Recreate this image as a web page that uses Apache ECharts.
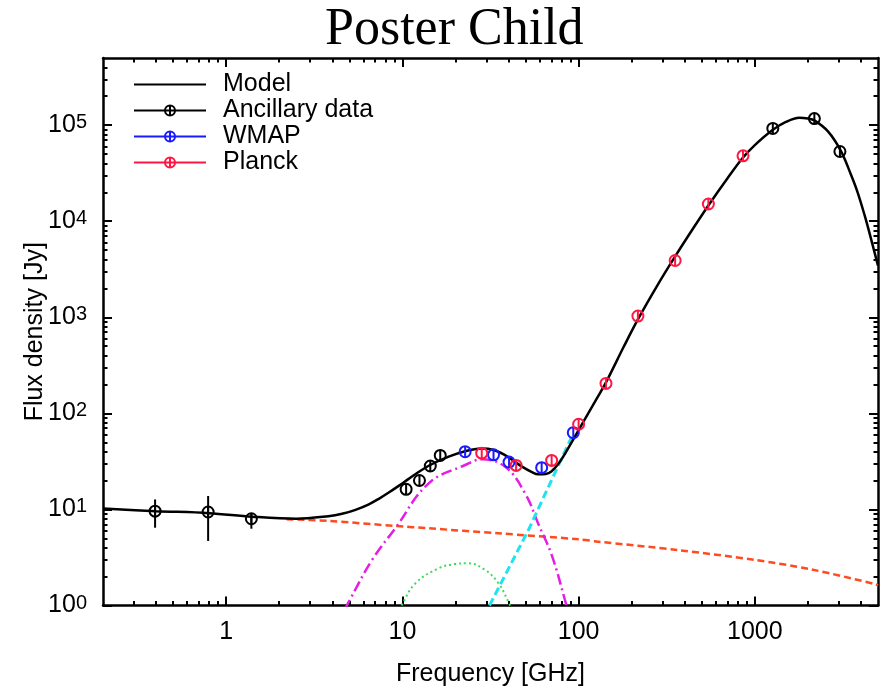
<!DOCTYPE html>
<html><head><meta charset="utf-8">
<script src="https://cdn.jsdelivr.net/npm/echarts@6/dist/echarts.min.js"></script>
<style>html,body{margin:0;padding:0;background:#fff}#c{width:880px;height:688px}</style>
</head><body><div id="c"></div>
<script>
// ---- Model (total) curve ----
const modelFreq = [0.2, 0.4, 0.8, 1.4, 2.5, 3.8, 4.55, 5.42, 6.45, 7.35, 8.37, 9.53, 10.86, 11.85, 14.1, 18.3, 22.7, 28, 33, 38, 43, 48, 54, 59, 65, 70, 77, 84, 93, 104, 126, 143, 180, 217, 280, 353, 450, 545, 700, 857, 1000, 1250, 1500, 1790, 2000, 2177, 2600, 3077, 3500, 3830, 4200, 4460, 4800, 5000];
const modelFlux = [10.2, 9.6, 9.15, 8.4, 8.0, 8.5, 9.0, 9.9, 11.3, 12.9, 15.0, 17.6, 20.8, 23.2, 28.5, 35.4, 40.4, 43, 41.6, 37, 31.8, 27.7, 24.6, 23.2, 23.4, 24.8, 30, 38.4, 53, 76, 140, 210, 490, 950, 2150, 4300, 8600, 14600, 28000, 46000, 62000, 88000, 108000, 119500, 117000, 112000, 86000, 54000, 31000, 20000, 11500, 7700, 4600, 3450];

// ---- Components ----
const syncFreq = [2.2, 3.8, 9.13, 14.1, 35.1, 100, 129, 366, 1000, 2083, 4820, 5000];
const syncFlux = [7.9, 7.6, 6.72, 6.36, 5.64, 4.89, 4.62, 3.78, 2.98, 2.38, 1.67, 1.62];

const ameFreq = [4.7, 4.97, 6.73, 9.13, 14.1, 22.7, 28.2, 38.3, 49.7, 59.1, 70.3, 83.7, 87];
const ameFlux = [0.9, 1.1, 2.98, 6.4, 18.7, 29.0, 33.2, 27.8, 14.7, 7.05, 3.36, 1.14, 0.85];

const ame2Freq = [9.6, 9.87, 11.85, 16.05, 19.96, 23.7, 29.5, 35.1, 40.9, 42];
const ame2Flux = [0.9, 1.0, 1.70, 2.44, 2.70, 2.75, 2.34, 1.70, 1.0, 0.9];

const dustFreq = [31.2, 51.9, 93.3];
const dustFlux = [1.0, 6.1, 62];

// ---- Measurements ----
const ancFreq = [0.395, 0.79, 1.39, 10.5, 12.5, 14.4, 16.4, 1265, 2177, 3040];
const ancFlux = [9.6, 9.4, 8.0, 16.2, 20, 28.3, 36.5, 92400, 117000, 53200];
const ancErrLo = [6.45, 4.7, 6.3, null, null, null, null, null, null, null];
const ancErrHi = [12.7, 13.8, 9.2, null, null, null, null, null, null, null];

const wmapFreq = [22.7, 32.9, 40.3, 61.7, 93.3];
const wmapFlux = [39.9, 37, 31.1, 27.2, 62.9];

const planckFreq = [28.2, 44.2, 70.3, 100, 143, 217, 353, 545, 857];
const planckFlux = [38.5, 28.7, 32.4, 77, 205, 1030, 3900, 15100, 47900];

// ---- Axis ticks / labels ----
const xTickLabels = [1, 10, 100, 1000];
const xMinorTicks = [0.3,0.4,0.5,0.6,0.7,0.8,0.9, 2,3,4,5,6,7,8,9, 20,30,40,50,60,70,80,90, 200,300,400,500,600,700,800,900, 2000,3000,4000];
const yTickLabels = [1, 10, 100, 1000, 10000, 100000];
const yMinorTicks = [2,3,4,5,6,7,8,9, 20,30,40,50,60,70,80,90, 200,300,400,500,600,700,800,900, 2000,3000,4000,5000,6000,7000,8000,9000, 20000,30000,40000,50000,60000,70000,80000,90000, 200000,300000,400000];

const FONT = 'Liberation Sans, Arial, Helvetica, sans-serif';
const pairs = (xs, ys) => xs.map((x, i) => [x, ys[i]]);
const ptSymbol = 'path://M1,12 A11,11 0 1,0 23,12 A11,11 0 1,0 1,12 Z M12,1 L12,23';

function baseX(pos, ticks, len, showLine) {
  return {
    type: 'log', logBase: 10, min: 0.2, max: 5000, gridIndex: 0, position: pos,
    axisLine: {show: showLine, onZero: false, lineStyle: {color: '#000', width: 2.5}},
    axisTick: {show: true, inside: true, length: len, customValues: ticks, lineStyle: {color: '#000', width: 2}},
    axisLabel: {show: false}, splitLine: {show: false}, minorTick: {show: false}
  };
}
function baseY(pos, ticks, len, showLine) {
  return {
    type: 'log', logBase: 10, min: 1, max: 500000, gridIndex: 0, position: pos,
    axisLine: {show: showLine, onZero: false, lineStyle: {color: '#000', width: 2.5}},
    axisTick: {show: true, inside: true, length: len, customValues: ticks, lineStyle: {color: '#000', width: 2}},
    axisLabel: {show: false}, splitLine: {show: false}, minorTick: {show: false}
  };
}

const xMain = baseX('bottom', xTickLabels, 9, true);
xMain.axisLabel = {
  show: true, customValues: xTickLabels, margin: 14,
  formatter: v => String(Math.round(v)),
  fontSize: 25, color: '#000', fontFamily: FONT
};
xMain.name = 'Frequency [GHz]';
xMain.nameLocation = 'middle';
xMain.nameGap = 56;
xMain.nameMoveOverlap = false;
xMain.nameTextStyle = {fontSize: 25, color: '#000', fontFamily: FONT};

const yMain = baseY('left', yTickLabels, 9, true);
yMain.axisLabel = {
  show: true, customValues: yTickLabels, margin: 16,
  formatter: v => '{b|10}{s|' + Math.round(Math.log10(v)) + '}',
  color: '#000', fontFamily: FONT,
  rich: {
    b: {fontSize: 25, lineHeight: 25, padding: [5, 0, 0, 0], verticalAlign: 'bottom', color: '#000', fontFamily: FONT},
    s: {fontSize: 20, lineHeight: 20, verticalAlign: 'top', color: '#000', fontFamily: FONT}
  }
};
yMain.name = 'Flux density [Jy]';
yMain.nameLocation = 'middle';
yMain.nameGap = 55;
yMain.nameMoveOverlap = false;
yMain.nameRotate = 90;
yMain.nameTextStyle = {fontSize: 25, color: '#000', fontFamily: FONT};

function curve(name, xs, ys, color, width, type, z, smooth) {
  return {
    name: name, type: 'line', xAxisIndex: 0, yAxisIndex: 0, data: pairs(xs, ys),
    symbol: 'circle', showSymbol: false, smooth: smooth, clip: true, z: z, silent: true,
    lineStyle: {color: color, width: width, type: type}, itemStyle: {color: color},
    emphasis: {disabled: true}
  };
}
function points(name, xs, ys, color) {
  return {
    name: name, type: 'line', xAxisIndex: 0, yAxisIndex: 0, data: pairs(xs, ys),
    symbol: ptSymbol, symbolSize: 11, showSymbol: true, z: 6, silent: true,
    lineStyle: {color: color, width: 2, opacity: 0},
    itemStyle: {color: 'rgba(0,0,0,0)', borderColor: color, borderWidth: 2},
    emphasis: {disabled: true}
  };
}

const errData = [];
ancFreq.forEach((f, i) => { if (ancErrLo[i] != null) errData.push([f, ancErrLo[i], ancErrHi[i]]); });

const option = {
  animation: false,
  backgroundColor: '#fff',
  title: {
    text: 'Poster Child', left: 325, top: 4, padding: 0,
    textStyle: {fontFamily: 'Liberation Serif, Times New Roman, serif', fontSize: 52, fontWeight: 'normal', color: '#000'}
  },
  grid: {left: 103, top: 58, width: 775, height: 547.5, containLabel: false, outerBoundsMode: 'none'},
  legend: {
    orient: 'vertical', left: 133, top: 72, padding: 0, itemGap: 1,
    itemWidth: 72, itemHeight: 12.5, selectedMode: false,
    textStyle: {fontSize: 25, color: '#000', fontFamily: FONT, padding: [0, 0, 0, 12]},
    data: [
      {name: 'Model', itemStyle: {opacity: 0}},
      {name: 'Ancillary data', lineStyle: {opacity: 1}},
      {name: 'WMAP', lineStyle: {opacity: 1}},
      {name: 'Planck', lineStyle: {opacity: 1}}
    ]
  },
  xAxis: [xMain, baseX('bottom', xMinorTicks, 4.5, false), baseX('top', xTickLabels, 9, true), baseX('top', xMinorTicks, 4.5, false)],
  yAxis: [yMain, baseY('left', yMinorTicks, 4.5, false), baseY('right', yTickLabels, 9, true), baseY('right', yMinorTicks, 4.5, false)],
  series: [
    curve('Free-free', syncFreq, syncFlux, '#ff4b1f', 2.5, [7, 4], 2, 0.3),
    curve('AME', ameFreq, ameFlux, '#e41ee4', 2.5, [11, 4, 2, 4], 2, 0.4),
    curve('AME2', ame2Freq, ame2Flux, '#3bdc55', 2, [2, 3], 2, 0.4),
    curve('Dust', dustFreq, dustFlux, '#1ee3f0', 3, [8, 4], 2, false),
    curve('Model', modelFreq, modelFlux, '#000', 2.5, 'solid', 4, 0.35),
    {
      name: 'ancErr', type: 'custom', xAxisIndex: 0, yAxisIndex: 0, data: errData, z: 5, silent: true,
      encode: {x: 0, y: [1, 2]},
      renderItem: function (params, api) {
        const p1 = api.coord([api.value(0), api.value(1)]);
        const p2 = api.coord([api.value(0), api.value(2)]);
        return {type: 'line', shape: {x1: p1[0], y1: p1[1], x2: p2[0], y2: p2[1]}, style: {stroke: '#000', lineWidth: 2}};
      }
    },
    points('Ancillary data', ancFreq, ancFlux, '#000'),
    points('WMAP', wmapFreq, wmapFlux, '#1a1aff'),
    points('Planck', planckFreq, planckFlux, '#ff1744')
  ]
};

const chart = echarts.init(document.getElementById('c'), null, {renderer: 'canvas'});
chart.setOption(option);
</script></body></html>
